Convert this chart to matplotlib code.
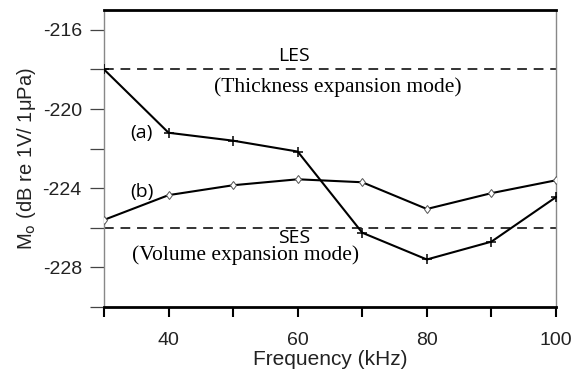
import matplotlib
matplotlib.use("Agg")
import matplotlib.pyplot as plt
from matplotlib.ticker import MultipleLocator, FixedLocator

freq = [30, 40, 50, 60, 70, 80, 90, 100]
series_a = [-218.0, -221.2, -221.6, -222.15, -226.25, -227.6, -226.7, -224.45]
series_b = [-225.6, -224.35, -223.85, -223.55, -223.7, -225.05, -224.25, -223.6]
les_level = -218.0
ses_level = -226.0
xtick_labels = ["40", "60", "80", "100"]
xtick_vals = [40, 60, 80, 100]
ytick_vals = [-228, -224, -220, -216]

plt.rcParams["font.family"] = ["Liberation Sans", "DejaVu Sans"]

fig = plt.figure(figsize=(5.79, 3.76), dpi=100)
ax = fig.add_axes([104/579, 1-307/376, (556-104)/579, (307-10)/376])

ax.set_xlim(30, 100)
ax.set_ylim(-230, -215)

dash = (0, (5, 3.5))
ax.axhline(les_level, color="#333333", lw=1.4, linestyle=dash, zorder=1)
ax.axhline(ses_level, color="#333333", lw=1.4, linestyle=dash, zorder=1)

ax.plot(freq, series_a, color="black", lw=1.5, marker="+", ms=6.5, mew=1.1, zorder=3)
ax.plot(freq, series_b, color="black", lw=1.5, marker="d", ms=4.5, mew=0.7,
        mfc="white", mec="#555555", zorder=3)

calibri = ["Open Sans", "DejaVu Sans"]
serif = ["Liberation Serif"]
ax.text(59.4, les_level + 0.2, "LES", fontsize=14, family=calibri, ha="center", va="bottom")
ax.text(66.2, les_level - 0.4, "(Thickness expansion mode)", fontsize=15.5, family=serif, ha="center", va="top")
ax.text(59.4, ses_level - 0.05, "SES", fontsize=14, family=calibri, ha="center", va="top")
ax.text(52.0, ses_level - 0.9, "(Volume expansion mode)", fontsize=15.5, family=serif, ha="center", va="top")
ax.text(35.8, -221.2, "(a)", fontsize=14, family=calibri, ha="center", va="center")
ax.text(35.8, -224.2, "(b)", fontsize=14, family=calibri, ha="center", va="center")

ax.xaxis.set_major_locator(FixedLocator(xtick_vals))
ax.set_xticklabels(xtick_labels)
ax.xaxis.set_minor_locator(MultipleLocator(10))
ax.yaxis.set_major_locator(FixedLocator(ytick_vals))
ax.set_yticklabels([str(v) for v in ytick_vals])
ax.yaxis.set_minor_locator(MultipleLocator(2))

ax.tick_params(axis="x", which="both", direction="out", length=7, width=1.5, color="black",
               labelsize=14, labelcolor="#222222", pad=11)
ax.tick_params(axis="y", which="both", direction="out", length=10, width=0.9, color="#444444",
               labelsize=14, labelcolor="#222222", pad=6)

for s in ["top", "bottom"]:
    ax.spines[s].set_linewidth(2.0)
    ax.spines[s].set_color("black")
for s in ["left", "right"]:
    ax.spines[s].set_linewidth(1.0)
    ax.spines[s].set_color("#888888")

ax.set_xlabel("Frequency (kHz)", fontsize=15, color="#222222", labelpad=1)
ax.set_ylabel("M$_\\mathrm{o}$ (dB re 1V/ 1\u03bcPa)", fontsize=14.5, color="#222222", labelpad=3)

fig.savefig("out.png", dpi=100)
